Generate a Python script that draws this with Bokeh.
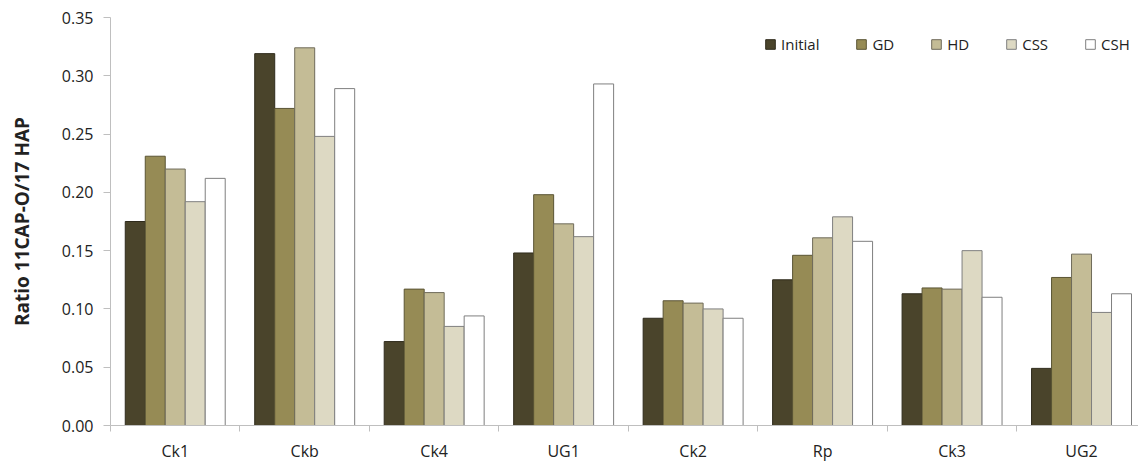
from bokeh.plotting import figure
from bokeh.models import ColumnDataSource, Range1d, FixedTicker, Legend, LegendItem, NumeralTickFormatter
from bokeh.transform import dodge
from bokeh.embed import file_html
from bokeh.resources import INLINE

categories = ["Ck1", "Ckb", "Ck4", "UG1", "Ck2", "Rp", "Ck3", "UG2"]
series = ["Initial", "GD", "HD", "CSS", "CSH"]
initial = [0.175, 0.319, 0.072, 0.148, 0.092, 0.125, 0.113, 0.049]
gd = [0.231, 0.272, 0.117, 0.198, 0.107, 0.146, 0.118, 0.127]
hd = [0.220, 0.324, 0.114, 0.173, 0.105, 0.161, 0.117, 0.147]
css = [0.192, 0.248, 0.085, 0.162, 0.100, 0.179, 0.150, 0.097]
csh = [0.212, 0.289, 0.094, 0.293, 0.092, 0.158, 0.110, 0.113]
colors = ["#4a442b", "#968b55", "#c4bc96", "#ddd9c3", "#ffffff"]
outlines = ["#2f2b1c", "#5a5434", "#6f6b5a", "#7f7f7f", "#7f7f7f"]
yticks = [0.0, 0.05, 0.10, 0.15, 0.20, 0.25, 0.30, 0.35]

centers = [i + 0.5 for i in range(len(categories))]
src = ColumnDataSource(dict(x=centers, Initial=initial, GD=gd, HD=hd, CSS=css, CSH=csh))

FONT = "Open Sans"
p = figure(width=1138, height=464, output_backend="svg", toolbar_location=None,
           x_range=Range1d(0, 7.94), y_range=Range1d(0, 0.35),
           min_border_left=110, min_border_right=0, min_border_top=17, min_border_bottom=30)
p.outline_line_color = None
p.xgrid.grid_line_color = None
p.ygrid.grid_line_color = None

bw = 0.1544
offsets = [-2 * bw, -bw, 0, bw, 2 * bw]
renderers = []
for name, off, col, lc in zip(series, offsets, colors, outlines):
    r = p.vbar(x=dodge("x", off, range=p.x_range), top=name, width=bw, bottom=0,
               source=src, fill_color=col, line_color=lc, line_width=1)
    renderers.append(r)

# x axis
xt = FixedTicker(ticks=centers, minor_ticks=list(range(0, 9)))
p.xaxis.ticker = xt
p.xaxis.major_label_overrides = {c: lab for c, lab in zip(centers, categories)}
p.xaxis.major_tick_out = 0
p.xaxis.major_tick_in = 0
p.xaxis.minor_tick_out = 6
p.xaxis.minor_tick_in = 0
p.xaxis.axis_line_color = "#bfbfbf"
p.xaxis.minor_tick_line_color = "#bfbfbf"
p.xaxis.major_label_text_font = FONT
p.xaxis.major_label_text_font_size = "16px"
p.xaxis.major_label_text_color = "#222222"
p.xaxis.major_label_standoff = 8

# y axis
p.yaxis.ticker = FixedTicker(ticks=yticks, minor_ticks=[])
p.yaxis.formatter = NumeralTickFormatter(format="0.00")
p.yaxis.axis_line_color = "#bfbfbf"
p.yaxis.major_tick_line_color = "#bfbfbf"
p.yaxis.major_tick_out = 7
p.yaxis.major_tick_in = 0
p.yaxis.minor_tick_line_color = None
p.yaxis.major_label_text_font = FONT
p.yaxis.major_label_text_font_size = "16px"
p.yaxis.major_label_text_color = "#222222"
p.yaxis.major_label_standoff = 10
p.yaxis.axis_label = "Ratio 11CAP-O/17 HAP"
p.yaxis.axis_label_text_font = FONT
p.yaxis.axis_label_text_font_style = "bold"
p.yaxis.axis_label_text_font_size = "19px"
p.yaxis.axis_label_text_color = "#222222"
p.yaxis.axis_label_standoff = 24

legend = Legend(items=[LegendItem(label=s, renderers=[r]) for s, r in zip(series, renderers)],
                orientation="horizontal", location=(654, 371))
legend.background_fill_alpha = 0
legend.border_line_color = None
legend.glyph_width = 12
legend.glyph_height = 12
legend.label_text_font = FONT
legend.label_text_font_size = "15px"
legend.label_text_color = "#222222"
legend.spacing = 36
legend.label_standoff = 5
legend.padding = 0
legend.margin = 0
p.add_layout(legend)

open("out.html", "w").write(file_html(p, INLINE))
